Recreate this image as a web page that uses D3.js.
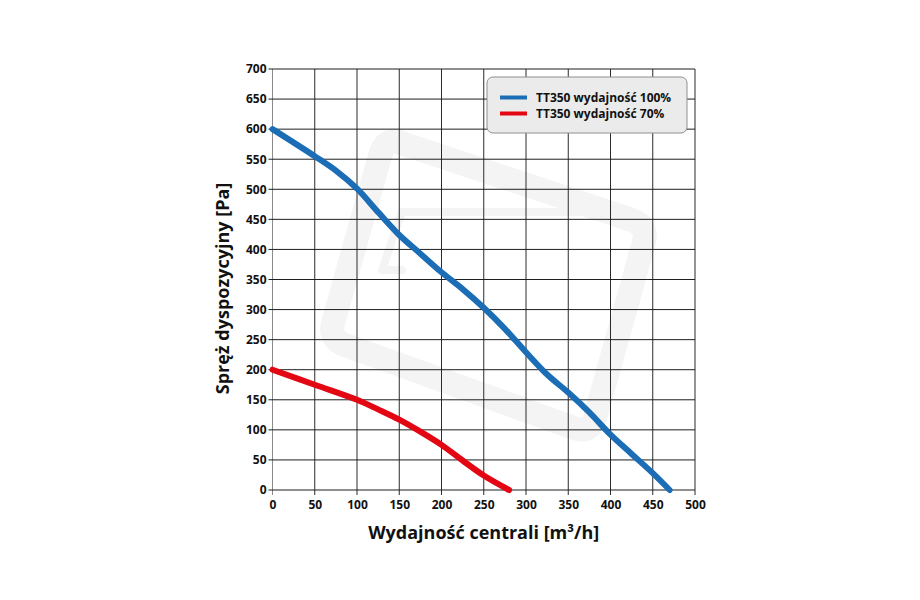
<!DOCTYPE html>
<html>
<head>
<meta charset="utf-8">
<script src="https://cdn.jsdelivr.net/npm/d3@7"></script>
<style>
  body { margin: 0; background: #fff; }
  svg { display: block; font-family: "Open Sans", "Noto Sans", sans-serif; }
</style>
</head>
<body>
<svg id="chart" width="920" height="600"></svg>
<script>
// data
const xTicks = [0, 50, 100, 150, 200, 250, 300, 350, 400, 450, 500];
const yTicks = [0, 50, 100, 150, 200, 250, 300, 350, 400, 450, 500, 550, 600, 650, 700];

const fullX = [0, 50, 75, 100, 125, 150, 175, 200, 225, 250, 275, 300, 325, 350, 375, 400, 425, 450, 470];
const fullY = [600, 555, 531, 501, 462, 424, 393, 362, 334, 303, 268, 229, 192, 162, 129, 92, 60, 28, 0];

const lowX = [0, 50, 100, 125, 150, 175, 200, 225, 250, 280];
const lowY = [200, 175, 150, 134, 117, 97, 75, 49, 24, 0];

const seriesNames = ["TT350 wydajność 100%", "TT350 wydajność 70%"];
const seriesColors = ["#1b6db5", "#e30613"];

const xTitle = "Wydajność centrali [m³/h]";
const yTitle = "Spręż dyspozycyjny [Pa]";

/* layout */
const svg = d3.select("#chart");
const margin = { left: 272.5, right: 225, top: 69, bottom: 110 };
const width = 920 - margin.left - margin.right;
const height = 600 - margin.top - margin.bottom;

const x = d3.scaleLinear().domain([0, 500]).range([0, width]);
const y = d3.scaleLinear().domain([0, 700]).range([height, 0]);

// faint logo watermark, behind everything
const wm = svg.append("g").attr("fill", "none").attr("stroke", "#f4f4f4")
  .attr("stroke-linejoin", "round").attr("stroke-linecap", "round");
wm.append("path")
  .attr("d", "M398,142 L632,220 Q648,226 644,242 L595,418 Q590,434 574,428 L345,345 Q329,339 333,323 L380,156 Q385,138 398,142 Z")
  .attr("stroke-width", 24);
wm.append("path")
  .attr("d", "M402,212 L608,212 M402,212 L382,270 L402,270")
  .attr("stroke-width", 8);

const g = svg.append("g")
  .attr("transform", "translate(" + margin.left + "," + margin.top + ")");

// grid
g.append("g")
  .selectAll("line")
  .data(xTicks)
  .enter().append("line")
  .attr("x1", d => x(d)).attr("x2", d => x(d))
  .attr("y1", 0).attr("y2", height + 5)
  .attr("stroke", (d, i) => i === 0 ? "#8a8a8a" : "#2b2b2b")
  .attr("stroke-width", 1);

g.append("g")
  .selectAll("line")
  .data(yTicks)
  .enter().append("line")
  .attr("x1", -4).attr("x2", width)
  .attr("y1", d => y(d)).attr("y2", d => y(d))
  .attr("stroke", "#1e1e1e")
  .attr("stroke-width", 1);

// axes (labels only, grid drawn above)
const xAxis = g.append("g")
  .attr("transform", "translate(0," + height + ")")
  .call(d3.axisBottom(x).tickValues(xTicks).tickSize(0).tickPadding(10));
xAxis.select(".domain").remove();
xAxis.selectAll("text")
  .attr("font-size", 12).attr("font-weight", "bold").attr("fill", "#111")
  .attr("font-family", "Open Sans, sans-serif");

const yAxis = g.append("g")
  .call(d3.axisLeft(y).tickValues(yTicks).tickSize(0).tickPadding(6));
yAxis.select(".domain").remove();
yAxis.selectAll("text")
  .attr("font-size", 12).attr("font-weight", "bold").attr("fill", "#111")
  .attr("font-family", "Open Sans, sans-serif");

// curves
const line = d3.line()
  .x(d => x(d[0]))
  .y(d => y(d[1]))
  .curve(d3.curveCatmullRom.alpha(0.5));

const series = [
  d3.zip(fullX, fullY),
  d3.zip(lowX, lowY)
];

g.selectAll(".curve")
  .data(series)
  .enter().append("path")
  .attr("class", "curve")
  .attr("d", line)
  .attr("fill", "none")
  .attr("stroke", (d, i) => seriesColors[i])
  .attr("stroke-width", 6)
  .attr("stroke-linecap", "round")
  .attr("stroke-linejoin", "round");

// legend
const lg = svg.append("g").attr("transform", "translate(487,77)");
lg.append("rect")
  .attr("width", 200).attr("height", 56)
  .attr("rx", 6).attr("ry", 6)
  .attr("fill", "#ebebeb").attr("stroke", "#8f8f8f").attr("stroke-width", 1);

const items = lg.selectAll(".item")
  .data(seriesNames)
  .enter().append("g")
  .attr("transform", (d, i) => "translate(0," + (20.5 + i * 16) + ")");
items.append("line")
  .attr("x1", 13).attr("x2", 40)
  .attr("stroke", (d, i) => seriesColors[i])
  .attr("stroke-width", 4);
items.append("text")
  .attr("x", 49).attr("dy", "0.35em")
  .attr("font-size", 12).attr("font-weight", "bold").attr("fill", "#111")
  .text(d => d);

// titles
svg.append("text")
  .attr("x", margin.left + width / 2).attr("y", 539)
  .attr("text-anchor", "middle")
  .attr("font-size", 18).attr("font-weight", "bold").attr("fill", "#111")
  .text(xTitle);

svg.append("text")
  .attr("transform", "translate(229," + (margin.top + height / 2 + 9) + ") rotate(-90)")
  .attr("text-anchor", "middle")
  .attr("font-size", 18).attr("font-weight", "bold").attr("fill", "#111")
  .text(yTitle);
</script>
</body>
</html>
